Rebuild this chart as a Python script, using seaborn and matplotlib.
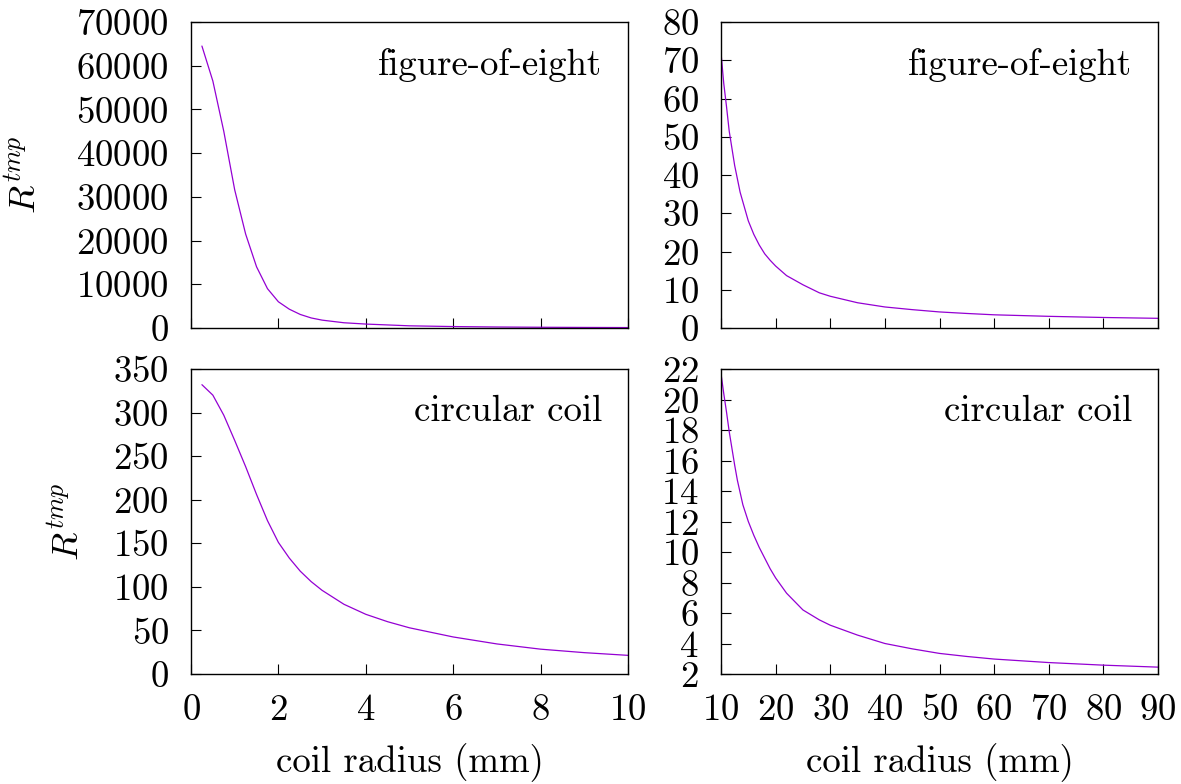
import numpy as np
import pandas as pd
import matplotlib
matplotlib.use("Agg")
import matplotlib.pyplot as plt
import seaborn as sns

# figure-of-eight, small radii (mm)
r_small = [0.25, 0.5, 0.75, 1.0, 1.25, 1.5, 1.75, 2.0, 2.25, 2.5, 2.75, 3.0,
           3.5, 4.0, 4.5, 5.0, 6.0, 7.0, 8.0, 9.0, 10.0]
fig8_small = [64500, 56500, 45000, 31600, 21500, 14000, 9000, 6000, 4300, 3100,
              2300, 1800, 1200, 900, 700, 500, 330, 230, 170, 130, 100]
circ_small = [332, 320, 297, 268, 238, 206, 176, 151, 133, 118, 106, 96,
              80, 68.5, 60, 53, 42.5, 34.5, 28.5, 24.5, 21.4]

# large radii (mm)
r_large = [10, 10.5, 11, 11.5, 12, 12.5, 13, 13.5, 14, 15, 16, 17, 18, 19, 20,
           22, 25, 28, 30, 35, 40, 45, 50, 55, 60, 70, 80, 90]
fig8_large = [72, 64, 58, 51.5, 47, 42.5, 39, 35.5, 33, 28, 24.5, 21.7, 19.4,
              17.7, 16.2, 13.7, 11.3, 9.2, 8.3, 6.6, 5.5, 4.8, 4.2, 3.8, 3.45,
              3.05, 2.75, 2.53]
circ_large = [21.7, 20.4, 19.2, 17.9, 16.8, 15.7, 14.7, 13.9, 13.1, 12.0, 11.1,
              10.3, 9.6, 8.9, 8.3, 7.3, 6.2, 5.55, 5.2, 4.55, 4.0, 3.65, 3.35,
              3.15, 2.98, 2.75, 2.58, 2.45]

sns.set_theme(style="ticks")
plt.rcParams['font.family'] = ['cmr10', 'DejaVu Serif']
plt.rcParams['mathtext.fontset'] = 'cm'
plt.rcParams['axes.unicode_minus'] = False
plt.rcParams['axes.formatter.use_mathtext'] = True
plt.rcParams['text.color'] = 'black'
plt.rcParams['axes.labelcolor'] = 'black'
plt.rcParams['xtick.color'] = 'black'
plt.rcParams['ytick.color'] = 'black'

FS = 26.5
col = '#9400d3'

fig = plt.figure(figsize=(11.81, 7.84), dpi=100)
L1, R1 = 191 / 1181, 628 / 1181
L2, R2 = 721 / 1181, 1158 / 1181
T1, B1 = 1 - 22 / 784, 1 - 328 / 784
T2, B2 = 1 - 369 / 784, 1 - 674 / 784

ax_tl = fig.add_axes([L1, B1, R1 - L1, T1 - B1])
ax_tr = fig.add_axes([L2, B1, R2 - L2, T1 - B1])
ax_bl = fig.add_axes([L1, B2, R1 - L1, T2 - B2])
ax_br = fig.add_axes([L2, B2, R2 - L2, T2 - B2])

panels = [
    (ax_tl, r_small, fig8_small, "figure-of-eight", (0, 10), (0, 70000), 10000, 2),
    (ax_tr, r_large, fig8_large, "figure-of-eight", (10, 90), (0, 80), 10, 10),
    (ax_bl, r_small, circ_small, "circular coil", (0, 10), (0, 350), 50, 2),
    (ax_br, r_large, circ_large, "circular coil", (10, 90), (2, 22), 2, 10),
]

for ax, x, y, label, xl, yl, ystep, xstep in panels:
    df = pd.DataFrame({'r': x, 'R': y})
    sns.lineplot(data=df, x='r', y='R', ax=ax, color=col, linewidth=0.9)
    ax.set_xlim(*xl)
    ax.set_ylim(*yl)
    ax.set_yticks(np.arange(yl[0], yl[1] + ystep / 2, ystep))
    ax.set_xticks(np.arange(xl[0], xl[1] + xstep / 2, xstep))
    ax.tick_params(direction='in', length=7, width=0.8, labelsize=FS,
                   top=False, right=False)
    ax.tick_params(axis='y', pad=16)
    ax.tick_params(axis='x', pad=14)
    for s in ax.spines.values():
        s.set_linewidth(1.0)
        s.set_color('black')
    ax.set_xlabel('')
    ax.set_ylabel('')
    ax.text(0.94, 0.86, label, transform=ax.transAxes, ha='right', va='center',
            fontsize=FS)

ax_tl.tick_params(labelbottom=False)
ax_tr.tick_params(labelbottom=False)

fig.text(24 / 1181, 1 - 175 / 784, r'$R^{tmp}$', fontsize=FS, rotation=90,
         ha='center', va='center')
fig.text(67 / 1181, 1 - 522 / 784, r'$R^{tmp}$', fontsize=FS, rotation=90,
         ha='center', va='center')
ax_bl.set_xlabel('coil radius (mm)', fontsize=FS, labelpad=12)
ax_br.set_xlabel('coil radius (mm)', fontsize=FS, labelpad=12)

fig.savefig('out.png', dpi=100, facecolor='white')
